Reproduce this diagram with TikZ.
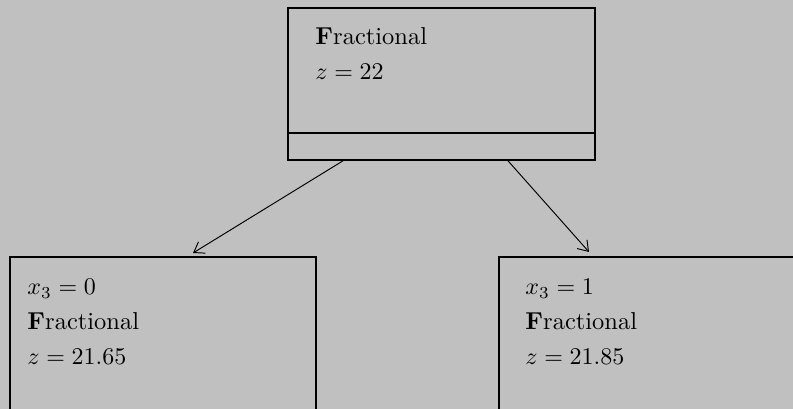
\documentclass[tikz,border=0pt]{standalone}
\usepackage{amsmath}
\usetikzlibrary{arrows.meta,calc}
\definecolor{bggray}{RGB}{192,192,192}
\tikzset{
    bbbox/.style={draw, line width=0.8pt, anchor=north west, inner sep=0pt},
    bbtext/.style={anchor=base west, inner sep=0pt, text width=70pt, align=left,
        font=\fontsize{10.2}{14.4}\selectfont},
}
\newcommand{\frc}{\textbf{F}ractional}

\begin{document}
\begin{tikzpicture}[x=0.4167pt, y=-0.4167pt, >={Straight Barb[length=4pt,width=5.5pt]}]
    \fill[bggray] (0,0) rectangle (793,409);
    \clip (0,0) rectangle (793,409);

    % branch and bound nodes
    \node[bbbox, minimum width=127.9pt, minimum height=63.3pt] (root) at (287,7) {};
    \draw[line width=0.8pt] ($(root.south west)+(0,-28)$) -- ($(root.south east)+(0,-28)$);
    \node[bbbox, minimum width=127.5pt, minimum height=75pt] (left) at (9,256) {};
    \node[bbbox, minimum width=127.5pt, minimum height=75pt] (right) at (498,256) {};

    \node[bbtext] (roottxt) at ($(root.north west)+(28,38)$) {\frc\\ $z=22$};
    \node[bbtext] (lefttxt) at ($(left.north west)+(18,39)$) {$x_3=0$\\ \frc\\ $z=21.65$};
    \node[bbtext] (righttxt) at ($(right.north west)+(27,39)$) {$x_3=1$\\ \frc\\ $z=21.85$};

    \coordinate (l0) at ($(root.south west)+(56,0)$);
    \coordinate (l1) at ($(left.north west)+(184,-3)$);
    \coordinate (r0) at ($(root.south west)+(221,0)$);
    \coordinate (r1) at ($(right.north west)+(91,-4)$);
    \draw[->, line width=0.4pt] (l0) -- (l1);
    \draw[->, line width=0.4pt] (r0) -- (r1);
\end{tikzpicture}
\end{document}
